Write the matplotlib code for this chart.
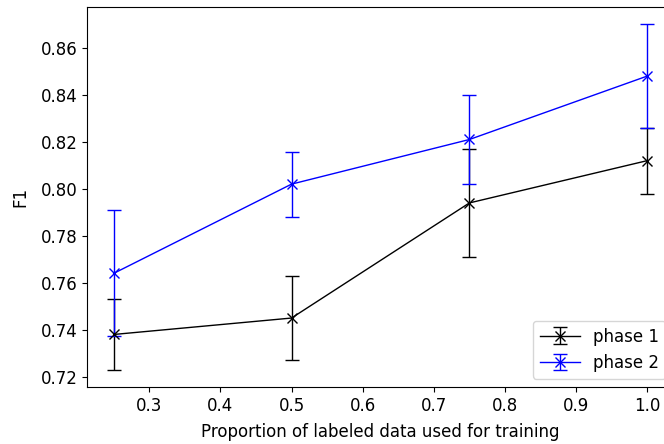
import matplotlib.pyplot as plt
import numpy as np

plt.rcParams["font.size"] = 12

proportion = [0.25, 0.5, 0.75, 1.0]

phase1 = [0.738, 0.745, 0.794, 0.812]
phase1_low = [0.723, 0.727, 0.771, 0.798]
phase1_high = [0.753, 0.763, 0.817, 0.826]

phase2 = [0.764, 0.802, 0.821, 0.848]
phase2_low = [0.7375, 0.788, 0.802, 0.826]
phase2_high = [0.791, 0.8155, 0.840, 0.870]


def yerr(mid, low, high):
    mid = np.asarray(mid)
    return [mid - np.asarray(low), np.asarray(high) - mid]


fig = plt.figure(figsize=(6.64, 4.44), dpi=100)
ax = fig.add_axes([0.131, 0.1284, 0.884, 0.8556])

ax.errorbar(proportion, phase1, yerr=yerr(phase1, phase1_low, phase1_high),
            color="black", marker="x", markersize=7, lw=1, capsize=5, label="phase 1")
ax.errorbar(proportion, phase2, yerr=yerr(phase2, phase2_low, phase2_high),
            color="blue", marker="x", markersize=7, lw=1, capsize=5, label="phase 2")

ax.set_xlabel("Proportion of labeled data used for training", labelpad=6)
ax.set_ylabel("F1", labelpad=8)
ax.legend(loc="lower right", handlelength=2.4)

fig.savefig("out.png", dpi=100)
